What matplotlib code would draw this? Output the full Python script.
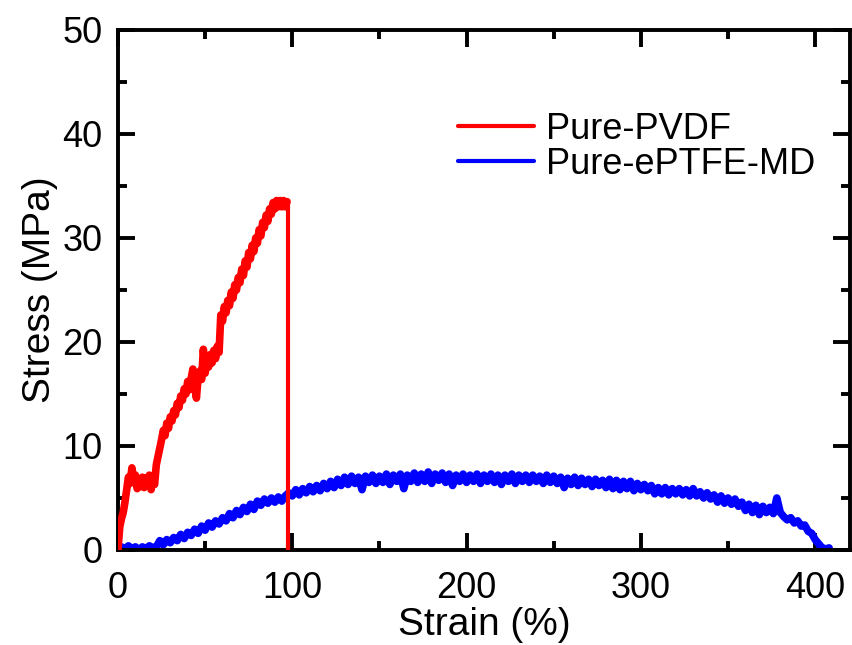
import numpy as np
import matplotlib
matplotlib.use("Agg")
import matplotlib.pyplot as plt
from matplotlib.ticker import MultipleLocator

plt.rcParams['font.family'] = ['Liberation Sans', 'DejaVu Sans']

# Pure-PVDF: stress (MPa) read at 1 % strain steps from 0 to 97 %
PVDF_STRAIN_STEP = 1
PVDF_STRESS = [
    0.0, 2.2, 3.0, 3.6, 4.6, 5.8, 7.0, 6.4, 7.9, 6.6,
    7.2, 5.9, 6.8, 6.1, 7.0, 6.0, 6.9, 6.2, 7.2, 5.8,
    6.9, 6.3, 8.2, 9.0, 9.8, 10.6, 11.5, 11.0, 12.2, 11.7,
    12.8, 12.4, 13.4, 13.0, 14.1, 13.7, 14.8, 14.4, 15.5, 15.0,
    16.2, 15.4, 16.5, 17.4, 16.0, 14.6, 16.6, 17.2, 16.4, 19.3,
    17.0, 18.4, 17.6, 18.8, 18.0, 19.2, 18.4, 19.6, 19.0, 22.6,
    22.0, 23.4, 22.8, 24.0, 23.5, 24.8, 24.2, 25.5, 25.0, 26.2,
    25.7, 27.0, 26.4, 27.8, 27.2, 28.6, 28.0, 29.3, 28.7, 30.0,
    29.5, 30.8, 30.2, 31.5, 31.0, 32.2, 31.6, 32.8, 32.3, 33.4,
    32.8, 33.6, 33.0, 33.6, 33.0, 33.6, 33.0, 33.5,
]
PVDF_BREAK_STRAIN = 97.3

# Pure-ePTFE-MD: stress (MPa) read at 2 % strain steps from 0 to 408 %
PTFE_STRAIN_STEP = 2
PTFE_STRESS = [
    0.2, 0.3, 0.1, 0.4, 0.1, 0.3, 0.0, 0.3, 0.1, 0.4,
    0.2, 0.3, 0.9, 0.5, 1.0, 0.7, 1.2, 0.9, 1.5, 1.1,
    1.7, 1.4, 2.0, 1.6, 2.3, 1.9, 2.6, 2.2, 2.8, 2.5,
    3.1, 2.8, 3.5, 3.1, 3.8, 3.4, 4.1, 3.7, 4.4, 3.9,
    4.7, 4.3, 4.9, 4.5, 5.0, 4.6, 5.1, 4.7, 5.2, 5.5,
    5.2, 5.8, 5.3, 5.9, 5.5, 6.1, 5.6, 6.2, 5.7, 6.4,
    5.9, 6.6, 6.0, 6.8, 6.2, 7.0, 6.3, 7.1, 6.4, 7.0,
    5.8, 7.1, 6.5, 7.2, 6.4, 7.1, 6.5, 7.3, 6.3, 7.2,
    6.6, 7.3, 5.9, 7.2, 6.6, 7.4, 6.5, 7.3, 6.6, 7.5,
    6.4, 7.3, 6.7, 7.4, 6.5, 7.3, 6.2, 7.2, 6.6, 7.3,
    6.5, 7.2, 6.6, 7.3, 6.4, 7.2, 6.6, 7.3, 6.5, 7.2,
    6.3, 7.2, 6.6, 7.3, 6.4, 7.2, 6.6, 7.2, 6.5, 7.2,
    6.6, 7.1, 6.4, 7.2, 6.5, 7.1, 6.4, 7.0, 6.0, 6.9,
    6.3, 7.0, 6.2, 6.9, 6.3, 6.8, 6.1, 6.8, 6.2, 6.7,
    6.0, 6.8, 5.9, 6.7, 5.8, 6.6, 5.9, 6.6, 5.7, 6.4,
    5.8, 6.3, 5.7, 6.2, 5.4, 6.0, 5.4, 6.0, 5.3, 5.9,
    5.4, 5.9, 5.3, 5.8, 5.2, 5.9, 5.2, 5.6, 5.0, 5.5,
    4.9, 5.3, 4.6, 5.2, 4.5, 5.0, 4.4, 4.9, 4.2, 4.6,
    3.8, 4.4, 3.6, 4.3, 3.4, 4.2, 3.6, 4.1, 3.5, 5.0,
    3.6, 3.2, 2.9, 3.1, 2.6, 2.8, 2.3, 2.4, 1.8, 1.6,
    1.0, 0.6, 0.2, 0.1, 0.2,
]

LABELS = ["Pure-PVDF", "Pure-ePTFE-MD"]
COLORS = ["#ff0000", "#0000ff"]

pvdf_x = np.arange(len(PVDF_STRESS)) * PVDF_STRAIN_STEP
pvdf_y = np.array(PVDF_STRESS)
ptfe_x = np.arange(len(PTFE_STRESS)) * PTFE_STRAIN_STEP
ptfe_y = np.array(PTFE_STRESS)

fig = plt.figure(figsize=(8.53, 6.45), dpi=100)
ax = fig.add_axes([0.1383, 0.1473, 0.8582, 0.8062])

# noisy curves drawn thick so the jitter reads as a band
ax.plot(pvdf_x, pvdf_y, color=COLORS[0], lw=5.5, label=LABELS[0], zorder=3,
        solid_joinstyle='round', solid_capstyle='round')
# sample failure: the thin vertical drop
ax.plot([pvdf_x[-1], PVDF_BREAK_STRAIN, PVDF_BREAK_STRAIN],
        [pvdf_y[-1], pvdf_y[-1], 0.0], color=COLORS[0], lw=3, zorder=3)
ax.plot(ptfe_x, ptfe_y, color=COLORS[1], lw=5.5, label=LABELS[1], zorder=2,
        solid_joinstyle='round', solid_capstyle='round')

ax.set_xlim(0, 420)
ax.set_ylim(0, 50)
ax.xaxis.set_major_locator(MultipleLocator(100))
ax.xaxis.set_minor_locator(MultipleLocator(50))
ax.yaxis.set_major_locator(MultipleLocator(10))
ax.yaxis.set_minor_locator(MultipleLocator(5))
ax.tick_params(which='both', direction='in', top=True, right=True, width=2.8)
ax.tick_params(which='major', length=12, labelsize=26)
ax.tick_params(axis='x', which='major', pad=15)
ax.tick_params(axis='y', which='major', pad=11)
ax.tick_params(which='minor', length=6.5)
for s in ax.spines.values():
    s.set_linewidth(2.8)

ax.set_xlabel("Strain (%)", fontsize=28, labelpad=1)
ax.set_ylabel("Stress (MPa)", fontsize=28, labelpad=3)

leg = ax.legend(loc='upper left', bbox_to_anchor=(0.42, 0.905), frameon=False,
                fontsize=26, handlelength=2.1, handletextpad=0.35,
                labelspacing=0.0)
for h in leg.get_lines():
    h.set_linewidth(3)

fig.savefig("out.png", dpi=100)
